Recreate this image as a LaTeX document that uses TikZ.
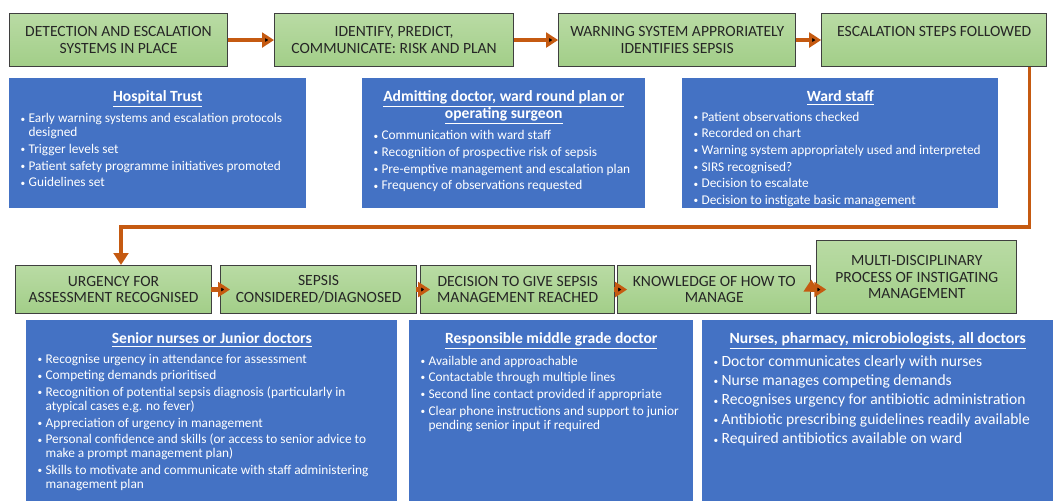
\documentclass[tikz,border=0pt]{standalone}
\usepackage{fontspec}
\setmainfont{Carlito}
\usetikzlibrary{%
  arrows.meta,% wg. Triangle
  positioning% wg. " of "
}
\definecolor{steptop}{HTML}{B9DBA4}
\definecolor{stepfill}{HTML}{A2CE88}
\definecolor{stepline}{HTML}{3F3F3F}
\definecolor{infofill}{HTML}{4472C4}
\definecolor{flowcol}{HTML}{C55A11}

\newlength{\bitemind}
\setlength{\bitemind}{6pt}
\newcommand{\infohead}[1]{{\centering\fontsize{11.7}{12.5}\selectfont\bfseries #1\par}\vspace{2pt}}
\newcommand{\bitem}[1]{\par\hangindent=\bitemind\hangafter=1\noindent\makebox[\bitemind][l]{\raisebox{0.6pt}{\scriptsize\textbullet}}#1}
\newcommand{\infobody}[3]{\parbox[t][#2][t]{#1}{\raggedright\setlength{\parskip}{2pt}\vspace{7.5pt}#3}}

\begin{document}
\begin{tikzpicture}[x=0.75pt,y=0.75pt,
    stepbox/.style={draw=stepline, line width=0.8pt, top color=steptop, bottom color=stepfill,
      align=center, text=black!85, inner sep=2pt, font=\fontsize{11.7}{12.5}\selectfont},
    topstep/.style={stepbox, minimum height=39.75pt},
    lowstep/.style={stepbox, minimum height=36pt},
    infobox/.style={anchor=north west, fill=infofill, text=white, inner xsep=8.5pt, inner ysep=0pt,
      font=\fontsize{10}{10.5}\selectfont},
    flow/.style={draw=flowcol, line width=3.4pt, -{Triangle[length=9pt,width=11pt]}}]
    \useasboundingbox (0,0) rectangle (1053,-500);

    %first row
    \node[topstep, minimum width=163.5pt, anchor=north west] (detect) at (9,-13) {DETECTION AND ESCALATION\\SYSTEMS IN PLACE};
    \node[topstep, minimum width=179.25pt] (identify) [right=34.5pt of detect] {IDENTIFY, PREDICT,\\COMMUNICATE: RISK AND PLAN};
    \node[topstep, minimum width=177.75pt] (warning) [right=33pt of identify] {WARNING SYSTEM APPRORIATELY\\IDENTIFIES SEPSIS};
    \node[topstep, minimum width=168.75pt] (escalate) [right=18.75pt of warning] {ESCALATION STEPS FOLLOWED\\\mbox{}};

    %who is responsible (first row)
    \node[infobox] (trust) at (9,-78) {\infobody{205.75pt}{97.5pt}{%
      \infohead{\underline{Hospital Trust}}
      \bitem{Early warning systems and escalation protocols\newline designed}
      \bitem{Trigger levels set}
      \bitem{Patient safety programme initiatives promoted}
      \bitem{Guidelines set}}};
    \node[infobox] (admit) at (362,-78) {\infobody{195.25pt}{97.5pt}{%
      \infohead{\underline{Admitting doctor, ward round plan or}\\\underline{operating surgeon}}
      \bitem{Communication with ward staff}
      \bitem{Recognition of prospective risk of sepsis}
      \bitem{Pre-emptive management and escalation plan}
      \bitem{Frequency of observations requested}}};
    \node[infobox] (ward) at (682,-78) {\infobody{220pt}{97.5pt}{%
      \infohead{\underline{Ward staff}}
      \bitem{Patient observations checked}
      \bitem{Recorded on chart}
      \bitem{Warning system appropriately used and interpreted}
      \bitem{SIRS recognised?}
      \bitem{Decision to escalate}
      \bitem{Decision to instigate basic management}}};

    %second row
    \node[lowstep, minimum width=147pt, anchor=north west] (urgency) at (15,-265) {URGENCY FOR\\ASSESSMENT RECOGNISED};
    \node[lowstep, minimum width=147pt] (sepsis) [right=6pt of urgency] {SEPSIS\\CONSIDERED/DIAGNOSED};
    \node[lowstep, minimum width=145.5pt] (decide) [right=2.25pt of sepsis] {DECISION TO GIVE SEPSIS\\MANAGEMENT REACHED};
    \node[lowstep, minimum width=144.75pt] (knowledge) [right=1.5pt of decide] {KNOWLEDGE OF HOW TO\\MANAGE};
    \node[stepbox, minimum width=150pt, minimum height=54.75pt] (multi) [right=3.75pt of knowledge.south east, anchor=south west] {MULTI-DISCIPLINARY\\PROCESS OF INSTIGATING\\MANAGEMENT};

    %who is responsible (second row)
    \node[infobox] (senior) at (26,-320) {\infobody{261.25pt}{140pt}{%
      \infohead{\underline{Senior nurses or Junior doctors}}
      \bitem{Recognise urgency in attendance for assessment}
      \bitem{Competing demands prioritised}
      \bitem{Recognition of potential sepsis diagnosis (particularly in\newline atypical cases e.g. no fever)}
      \bitem{Appreciation of urgency in management}
      \bitem{Personal confidence and skills (or access to senior advice to\newline make a prompt management plan)}
      \bitem{Skills to motivate and communicate with staff administering\newline management plan}}};
    \node[infobox] (middle) at (409,-320) {\infobody{196pt}{140pt}{%
      \infohead{\underline{Responsible middle grade doctor}}
      \bitem{Available and approachable}
      \bitem{Contactable through multiple lines}
      \bitem{Second line contact provided if appropriate}
      \bitem{Clear phone instructions and support to junior\newline pending senior input if required}}};
    \node[infobox, font=\fontsize{11.7}{12.6}\selectfont] (nurses) at (702,-320) {\infobody{246.25pt}{140pt}{%
      \infohead{\underline{Nurses, pharmacy, microbiologists, all doctors}}
      \bitem{Doctor communicates clearly with nurses}
      \bitem{Nurse manages competing demands}
      \bitem{Recognises urgency for antibiotic administration}
      \bitem{Antibiotic prescribing guidelines readily available}
      \bitem{Required antibiotics available on ward}}};

    %arrows
    \coordinate (turn) at (121,-227);
    \path[flow]
     (detect) edge (identify)
     (identify) edge (warning)
     (warning) edge (escalate);
    \path[flow, shorten >=-7.5pt, shorten <=-1pt]
     (urgency) edge (sepsis)
     (sepsis) edge (decide)
     (decide) edge (knowledge)
     (knowledge.east) edge (knowledge.east -| multi.west);
    \draw[flow, line width=2.6pt] ([xshift=-13.5pt]escalate.south east) |- (turn) -- (turn |- urgency.north);
\end{tikzpicture}
\end{document}
